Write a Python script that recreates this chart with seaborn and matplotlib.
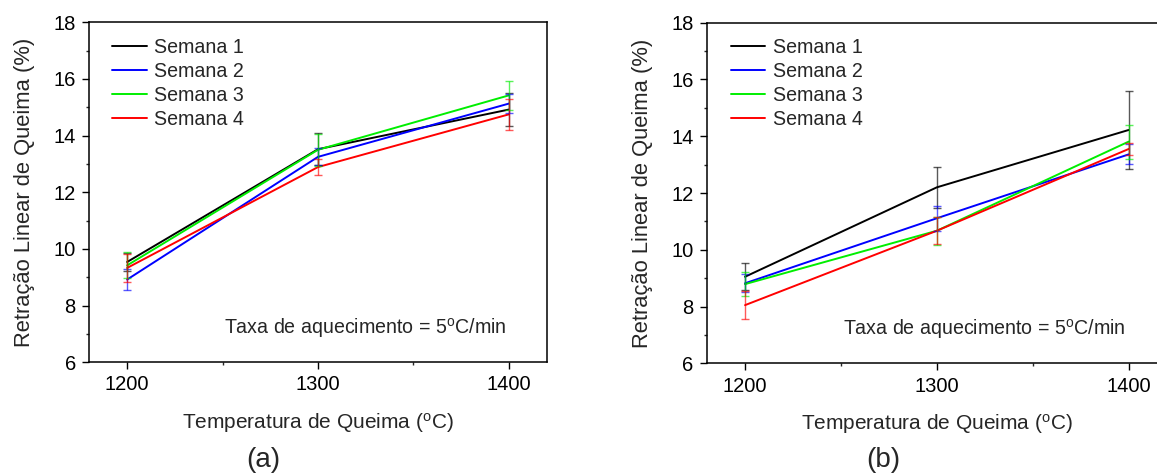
import numpy as np
import pandas as pd
import matplotlib
matplotlib.use("Agg")
import matplotlib.pyplot as plt
from matplotlib.ticker import MultipleLocator
import seaborn as sns

# ---------------- data ----------------
temperatures = [1200, 1300, 1400]
series_names = ["Semana 1", "Semana 2", "Semana 3", "Semana 4"]

# panel (a)
a_s1 = [9.54, 13.52, 14.92]
a_s2 = [8.92, 13.25, 15.13]
a_s3 = [9.42, 13.50, 15.42]
a_s4 = [9.33, 12.89, 14.75]
a_s1_err = [0.33, 0.57, 0.57]
a_s2_err = [0.37, 0.30, 0.33]
a_s3_err = [0.46, 0.56, 0.50]
a_s4_err = [0.50, 0.27, 0.55]

# panel (b)
b_s1 = [9.05, 12.20, 14.22]
b_s2 = [8.82, 11.11, 13.36]
b_s3 = [8.79, 10.67, 13.81]
b_s4 = [8.05, 10.67, 13.55]
b_s1_err = [0.48, 0.73, 1.37]
b_s2_err = [0.32, 0.45, 0.35]
b_s3_err = [0.41, 0.50, 0.60]
b_s4_err = [0.50, 0.48, 0.22]

x_label = "Temperatura de Queima ($^{\\mathrm{o}}$C)"
y_label = "Retração Linear de Queima (%)"
note = "Taxa de aquecimento = 5$^{\\mathrm{o}}$C/min"
panel_labels = ["(a)", "(b)"]

colors = ["#000000", "#0000ff", "#00ee00", "#ff0000"]

# ---------------- style ----------------
sns.set_theme(style="ticks")
plt.rcParams["font.family"] = ["Liberation Sans", "DejaVu Sans"]
plt.rcParams["mathtext.fontset"] = "custom"
plt.rcParams["mathtext.rm"] = "Liberation Sans"
plt.rcParams["mathtext.it"] = "Liberation Sans:italic"
plt.rcParams["mathtext.bf"] = "Liberation Sans:bold"

fig = plt.figure(figsize=(11.57, 4.74), dpi=100)
ax_a = fig.add_axes([0.0769, 0.2357, 0.3959, 0.7173])
ax_b = fig.add_axes([0.6108, 0.2335, 0.3978, 0.7186])


def draw(ax, vals, errs, leg_x):
    rows = []
    for name, v in zip(series_names, vals):
        for t, y in zip(temperatures, v):
            rows.append({"T": t, "R": y, "Semana": name})
    df = pd.DataFrame(rows)
    sns.lineplot(data=df, x="T", y="R", hue="Semana", palette=colors,
                 hue_order=series_names, ax=ax, linewidth=1.4,
                 errorbar=None, legend=True)
    for v, e, c in zip(vals, errs, colors):
        ax.errorbar(temperatures, v, yerr=e, fmt="none", ecolor=c,
                    elinewidth=1.0, capsize=2.6, capthick=1.0, alpha=0.65)
    ax.set_xlim(1180, 1420)
    ax.set_ylim(6, 18)
    ax.xaxis.set_major_locator(MultipleLocator(100))
    ax.xaxis.set_minor_locator(MultipleLocator(50))
    ax.yaxis.set_major_locator(MultipleLocator(2))
    ax.yaxis.set_minor_locator(MultipleLocator(1))
    ax.tick_params(which="major", direction="out", length=5, width=1.0,
                   labelsize=14.5, pad=4.5, colors="black")
    ax.tick_params(which="minor", direction="out", length=2.5, width=1.0)
    for sp in ax.spines.values():
        sp.set_visible(True)
        sp.set_linewidth(1.1)
        sp.set_color("black")
    ax.set_xlabel(x_label, fontsize=15, labelpad=12)
    ax.set_ylabel(y_label, fontsize=15.8, labelpad=13)
    ax.grid(False)
    ax.text(1251, 7.2, note, fontsize=14.1, ha="left", va="center")
    leg = ax.legend(loc="upper left", bbox_to_anchor=(leg_x, 0.955),
                    frameon=False, fontsize=14.1, handlelength=1.75,
                    handletextpad=0.38, labelspacing=0.26, borderpad=0,
                    borderaxespad=0)
    for h in leg.get_lines():
        h.set_linewidth(1.4)


draw(ax_a, [a_s1, a_s2, a_s3, a_s4], [a_s1_err, a_s2_err, a_s3_err, a_s4_err], 0.051)
draw(ax_b, [b_s1, b_s2, b_s3, b_s4], [b_s1_err, b_s2_err, b_s3_err, b_s4_err], 0.053)

fig.text(263 / 1157, 1 - 460 / 474, panel_labels[0], fontsize=20, ha="center", va="center")
fig.text(883 / 1157, 1 - 460 / 474, panel_labels[1], fontsize=20, ha="center", va="center")

fig.savefig("out.png", dpi=100)
